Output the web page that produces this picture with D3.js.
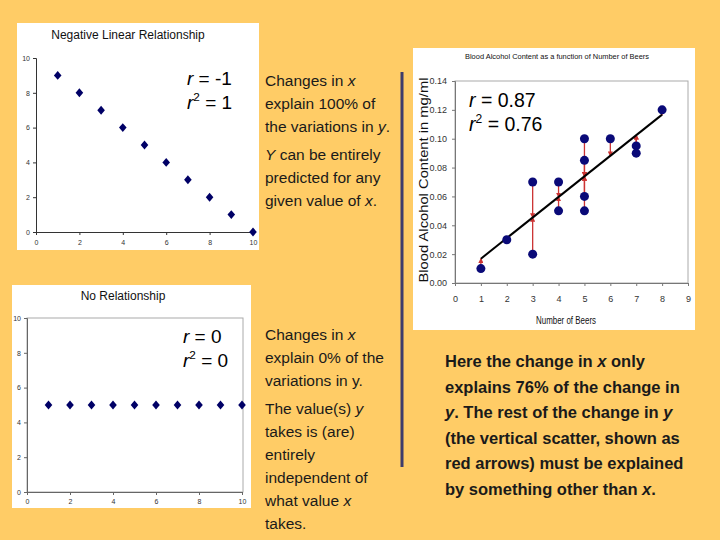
<!DOCTYPE html>
<html>
<head>
<meta charset="utf-8">
<script src="https://cdn.jsdelivr.net/npm/d3@7"></script>
<style>
  body { margin: 0; background: #FFCC66; }
  svg { display: block; font-family: Arial, "Liberation Sans", sans-serif; }
</style>
</head>
<body>
<svg id="slide" width="720" height="540"></svg>
<script>
// ---- data ----
var negX = [1, 2, 3, 4, 5, 6, 7, 8, 9, 10];
var negY = [9, 8, 7, 6, 5, 4, 3, 2, 1, 0];
var noX = [1, 2, 3, 4, 5, 6, 7, 8, 9, 10];
var noY = [5, 5, 5, 5, 5, 5, 5, 5, 5, 5];
var beers = [1, 2, 3, 3, 4, 4, 5, 5, 5, 5, 6, 7, 7, 8];
var bac = [0.01, 0.03, 0.07, 0.02, 0.07, 0.05, 0.10, 0.085, 0.06, 0.05, 0.10, 0.095, 0.09, 0.12];
var fitIntercept = 0.0026;
var fitSlope = 0.01426;
var smallTicks = [0, 2, 4, 6, 8, 10];
var beerTicks = [0, 1, 2, 3, 4, 5, 6, 7, 8, 9];
var bacTicks = [0, 0.02, 0.04, 0.06, 0.08, 0.10, 0.12, 0.14];

var topText = ["Changes in *x*", "explain 100% of", "the variations in *y*.",
               "*Y* can be entirely", "predicted for any", "given value of *x*."];
var bottomText = ["Changes in *x*", "explain 0% of the", "variations in y.",
                  "The value(s) *y*", "takes is (are)", "entirely", "independent of",
                  "what value *x*", "takes."];
var rightText = ["Here the change in *x* only", "explains 76% of the change in",
                 "*y*. The rest of the change in *y*", "(the vertical scatter, shown as",
                 "red arrows) must be explained", "by something other than *x*."];

var svg = d3.select("#slide");
svg.append("rect").attr("width", 720).attr("height", 540).attr("fill", "#FFCC66");

// write a line with *italic* parts as tspans
function richLine(g, str, x, y, size, weight) {
  var t = g.append("text").attr("x", x).attr("y", y)
    .attr("font-size", size).attr("font-weight", weight || "normal").attr("fill", "#1a1a1a");
  str.split("*").forEach(function(part, i) {
    if (part === "") return;
    t.append("tspan").attr("font-style", i % 2 ? "italic" : "normal").text(part);
  });
  return t;
}

// "r = v" and "r2 = v" labels
function rLabels(g, x, y1, y2, size, rVal, r2Val) {
  var t1 = g.append("text").attr("x", x).attr("y", y1).attr("font-size", size).attr("fill", "#000");
  t1.append("tspan").attr("font-style", "italic").text("r");
  t1.append("tspan").text(" = " + rVal);
  var t2 = g.append("text").attr("x", x).attr("y", y2).attr("font-size", size).attr("fill", "#000");
  t2.append("tspan").attr("font-style", "italic").text("r");
  t2.append("tspan").attr("font-size", size * 0.62).attr("dy", -size * 0.42).text("2");
  t2.append("tspan").attr("dy", size * 0.42).text(" = " + r2Val);
}

function styleAxis(sel, col, fsize) {
  sel.selectAll("path").attr("stroke", col);
  sel.selectAll("line").attr("stroke", col);
  sel.selectAll("text").attr("font-size", fsize).attr("fill", "#333").attr("font-family", "Arial, sans-serif");
}

var diamond = d3.symbol().type(d3.symbolSquare).size(40);

// ---- panel 1: negative linear relationship ----
var p1 = svg.append("g");
p1.append("rect").attr("x", 17).attr("y", 23).attr("width", 242).attr("height", 227).attr("fill", "#fff");
var x1 = d3.scaleLinear().domain([0, 10]).range([36, 253]);
var y1 = d3.scaleLinear().domain([0, 10]).range([232, 58]);
p1.append("text").attr("x", 128).attr("y", 39).attr("text-anchor", "middle")
  .attr("font-size", 12).attr("fill", "#111").text("Negative Linear Relationship");
p1.append("g").attr("transform", "translate(0,232)")
  .call(d3.axisBottom(x1).tickValues(smallTicks).tickSize(3).tickPadding(5))
  .call(styleAxis, "#333", 7);
p1.append("g").attr("transform", "translate(36,0)")
  .call(d3.axisLeft(y1).tickValues(smallTicks).tickSize(3).tickPadding(3))
  .call(styleAxis, "#333", 7);
p1.selectAll(".pt").data(negX).enter().append("path")
  .attr("d", diamond).attr("fill", "#000066")
  .attr("transform", function(d, i) { return "translate(" + x1(d) + "," + y1(negY[i]) + ") scale(0.85,1) rotate(45)"; });
rLabels(p1, 187, 85, 109, 19, "-1", "1");

// ---- panel 2: no relationship ----
var p2 = svg.append("g");
p2.append("rect").attr("x", 12).attr("y", 285).attr("width", 239).attr("height", 223).attr("fill", "#fff");
var x2 = d3.scaleLinear().domain([0, 10]).range([27, 242]);
var y2 = d3.scaleLinear().domain([0, 10]).range([492, 318]);
p2.append("rect").attr("x", x2(0)).attr("y", y2(10)).attr("width", x2(10) - x2(0) + 1)
  .attr("height", y2(0) - y2(10)).attr("fill", "none").attr("stroke", "#aaa");
p2.append("text").attr("x", 123).attr("y", 300).attr("text-anchor", "middle")
  .attr("font-size", 12).attr("fill", "#111").text("No Relationship");
p2.append("g").attr("transform", "translate(0,492)")
  .call(d3.axisBottom(x2).tickValues(smallTicks).tickSize(3).tickPadding(4))
  .call(styleAxis, "#666", 7);
p2.append("g").attr("transform", "translate(27,0)")
  .call(d3.axisLeft(y2).tickValues(smallTicks).tickSize(3).tickPadding(3))
  .call(styleAxis, "#666", 7);
p2.selectAll(".pt").data(noX).enter().append("path")
  .attr("d", diamond).attr("fill", "#000066")
  .attr("transform", function(d, i) { return "translate(" + x2(d) + "," + y2(noY[i]) + ") scale(0.85,1) rotate(45)"; });
rLabels(p2, 183, 343, 367, 19, "0", "0");

// ---- panel 3: blood alcohol vs beers ----
var p3 = svg.append("g");
p3.append("rect").attr("x", 413).attr("y", 48).attr("width", 282).attr("height", 282).attr("fill", "#fff");
var x3 = d3.scaleLinear().domain([0, 9]).range([455, 688]);
var y3 = d3.scaleLinear().domain([0, 0.14]).range([283, 81]);
p3.append("rect").attr("x", x3(0)).attr("y", y3(0.14)).attr("width", x3(9) - x3(0))
  .attr("height", y3(0) - y3(0.14)).attr("fill", "none").attr("stroke", "#aaa");
p3.append("g").attr("transform", "translate(0,283)")
  .call(d3.axisBottom(x3).tickValues(beerTicks).tickSize(3).tickPadding(10))
  .call(styleAxis, "#777", 9);
p3.append("g").attr("transform", "translate(455,0)")
  .call(d3.axisLeft(y3).tickValues(bacTicks).tickFormat(d3.format(".2f")).tickSize(3).tickPadding(5))
  .call(styleAxis, "#777", 9);
p3.append("text").attr("x", 557).attr("y", 59).attr("text-anchor", "middle")
  .attr("font-size", 8).attr("textLength", 184).attr("lengthAdjust", "spacingAndGlyphs")
  .attr("fill", "#111").text("Blood Alcohol Content as a function of Number of Beers");
p3.append("text").attr("x", 566).attr("y", 324).attr("text-anchor", "middle")
  .attr("font-size", 11).attr("textLength", 60).attr("lengthAdjust", "spacingAndGlyphs")
  .attr("fill", "#111").text("Number of Beers");
p3.append("text").attr("transform", "translate(428,180) rotate(-90)").attr("text-anchor", "middle")
  .attr("font-size", 12).attr("textLength", 205).attr("lengthAdjust", "spacingAndGlyphs")
  .attr("fill", "#111").text("Blood Alcohol Content in mg/ml");

// residual arrows (red) from each point to the fitted line
var defs = svg.append("defs");
defs.append("marker").attr("id", "arr").attr("viewBox", "0 0 6 6").attr("refX", 5).attr("refY", 3)
  .attr("markerWidth", 4).attr("markerHeight", 4).attr("orient", "auto")
  .append("path").attr("d", "M0,0 L6,3 L0,6 Z").attr("fill", "#cc3333");
p3.selectAll(".res").data(beers).enter().append("line")
  .attr("x1", function(d) { return x3(d); })
  .attr("x2", function(d) { return x3(d); })
  .attr("y1", function(d, i) { return y3(bac[i]); })
  .attr("y2", function(d) { return y3(fitIntercept + fitSlope * d); })
  .attr("stroke", "#cc3333").attr("stroke-width", 1.3).attr("marker-end", "url(#arr)");
// fitted line
p3.append("line")
  .attr("x1", x3(1)).attr("y1", y3(fitIntercept + fitSlope * 1))
  .attr("x2", x3(8)).attr("y2", y3(fitIntercept + fitSlope * 8))
  .attr("stroke", "#000").attr("stroke-width", 2);
p3.selectAll(".pt").data(beers).enter().append("circle")
  .attr("cx", function(d) { return x3(d); })
  .attr("cy", function(d, i) { return y3(bac[i]); })
  .attr("r", 4.5).attr("fill", "#0a0a78");
rLabels(p3, 469, 107, 131, 19.5, "0.87", "0.76");

// ---- slide text ----
var tg = svg.append("g");
topText.forEach(function(s, i) {
  richLine(tg, s, 265, 86 + i * 23 + (i > 2 ? 5 : 0), 15.5);
});
bottomText.forEach(function(s, i) {
  richLine(tg, s, 265, 340 + i * 23 + (i > 2 ? 5 : 0), 15.5);
});
rightText.forEach(function(s, i) {
  richLine(tg, s, 445, 367 + i * 25.5, 16.5, "bold");
});
tg.append("line").attr("x1", 402).attr("x2", 402).attr("y1", 72).attr("y2", 467)
  .attr("stroke", "#3f3c6b").attr("stroke-width", 3);
</script>
</body>
</html>
